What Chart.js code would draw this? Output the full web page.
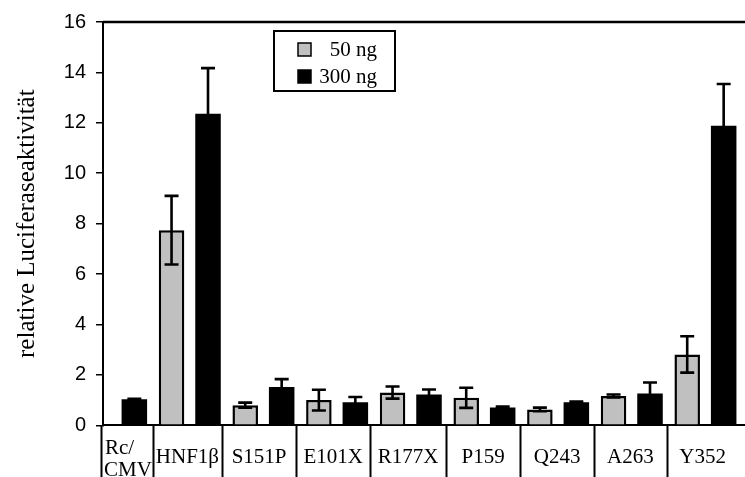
<!DOCTYPE html>
<html>
<head>
<meta charset="utf-8">
<script src="https://cdn.jsdelivr.net/npm/chart.js@4"></script>
<style>
  body { margin: 0; background: #fff; }
</style>
</head>
<body>
<canvas id="luciferase" width="745" height="477"></canvas>
<script>
// data
const categories = [['Rc/', 'CMV'], 'HNF1β', 'S151P', 'E101X', 'R177X', 'P159', 'Q243', 'A263', 'Y352'];
const seriesLabels = ['50 ng', '300 ng'];
const values50 = [null, 7.74, 0.80, 1.00, 1.30, 1.09, 0.63, 1.16, 2.81];
const errors50 = [null, 1.36, 0.10, 0.41, 0.24, 0.40, 0.07, 0.06, 0.72];
const values300 = [1.03, 12.36, 1.52, 0.91, 1.22, 0.71, 0.91, 1.26, 11.88];
const errors300 = [0.02, 1.81, 0.31, 0.21, 0.20, 0.03, 0.03, 0.44, 1.66];
const yTicks = [0, 2, 4, 6, 8, 10, 12, 14, 16];

// where the label table is split, in category units
const separators = [-0.205, 0.5, 1.436, 2.445, 3.449, 4.48, 5.484, 6.488, 7.475, 8.45];

const toPoints = vals => vals.map((v, i) => ({ x: i, y: v }));

const errorBars = {
    id: 'errorBars',
    afterDatasetsDraw(chart) {
        const ctx = chart.ctx;
        const y = chart.scales.y;
        const errs = [errors50, errors300];
        ctx.save();
        ctx.strokeStyle = '#000';
        ctx.lineWidth = 2.6;
        chart.data.datasets.forEach((ds, d) => {
            const meta = chart.getDatasetMeta(d);
            meta.data.forEach((bar, i) => {
                const v = ds.data[i].y;
                const e = errs[d][i];
                if (v == null || e == null) return;
                const top = y.getPixelForValue(v + e);
                const bot = y.getPixelForValue(v - e);
                ctx.beginPath();
                ctx.moveTo(bar.x, top); ctx.lineTo(bar.x, bot);
                ctx.moveTo(bar.x - 7, top); ctx.lineTo(bar.x + 7, top);
                ctx.moveTo(bar.x - 7, bot); ctx.lineTo(bar.x + 7, bot);
                ctx.stroke();
            });
        });
        ctx.restore();
    }
};

const frameAndLabels = {
    id: 'frameAndLabels',
    afterDraw(chart) {
        const ctx = chart.ctx;
        const area = chart.chartArea;
        const x = chart.scales.x;
        ctx.save();
        ctx.strokeStyle = '#000';
        // top frame line
        ctx.lineWidth = 2.5;
        ctx.beginPath();
        ctx.moveTo(area.left, area.top);
        ctx.lineTo(chart.width, area.top);
        ctx.stroke();

        // category table under the axis
        ctx.lineWidth = 2;
        ctx.beginPath();
        separators.slice(0, 9).forEach(s => {
            const px = Math.round(x.getPixelForValue(s)) + 0.5;
            ctx.moveTo(px, area.bottom);
            ctx.lineTo(px, chart.height);
        });
        ctx.stroke();

        ctx.fillStyle = '#000';
        ctx.font = '21px "Liberation Serif"';
        ctx.textBaseline = 'alphabetic';
        categories.forEach((c, i) => {
            const l = x.getPixelForValue(separators[i]);
            const r = x.getPixelForValue(separators[i + 1]);
            if (Array.isArray(c)) {
                ctx.textAlign = 'left';
                ctx.fillText(c[0], l + 4, 454);
                ctx.fillText(c[1], l + 3, 476);
            } else {
                ctx.textAlign = 'center';
                ctx.fillText(c, (l + r) / 2, 463);
            }
        });

        // legend box
        ctx.lineWidth = 2;
        ctx.strokeRect(274, 31, 121, 60);
        chart.data.datasets.forEach((ds, d) => {
            const sy = 43 + d * 27;
            ctx.fillStyle = ds.backgroundColor;
            ctx.fillRect(298, sy, 13, 13);
            ctx.lineWidth = 1.5;
            ctx.strokeRect(298, sy, 13, 13);
            ctx.fillStyle = '#000';
            ctx.textAlign = 'right';
            ctx.font = '21px "Liberation Serif"';
            ctx.fillText(ds.label, 377, sy + 13);
        });
        ctx.restore();
    }
};

let chart = new Chart(document.getElementById('luciferase'), {
    type: 'bar',
    data: {
        datasets: [
            {
                label: seriesLabels[0],
                data: toPoints(values50),
                backgroundColor: '#c0c0c0',
                borderColor: '#000',
                borderWidth: 2.5,
                categoryPercentage: 0.99,
                barPercentage: 0.70
            },
            {
                label: seriesLabels[1],
                data: toPoints(values300),
                backgroundColor: '#000',
                borderColor: '#000',
                borderWidth: 0,
                categoryPercentage: 0.99,
                barPercentage: 0.70
            }
        ]
    },
    options: {
        responsive: false,
        animation: false,
        layout: { padding: { top: 20, left: 0, right: 0, bottom: 0 } },
        plugins: {
            legend: { display: false },
            tooltip: { enabled: false }
        },
        scales: {
            x: {
                type: 'linear',
                min: -0.178,
                max: 8.537,
                offset: false,
                ticks: { display: false, stepSize: 1, includeBounds: false },
                grid: { display: false },
                border: { display: true, color: '#000', width: 2 },
                afterFit: s => { s.height = 51.7; }
            },
            y: {
                min: 0,
                max: 16,
                afterBuildTicks: s => { s.ticks = yTicks.map(v => ({ value: v })); },
                ticks: {
                    color: '#000',
                    padding: 10,
                    font: { family: 'Liberation Sans', size: 20 }
                },
                grid: {
                    drawOnChartArea: false,
                    drawTicks: true,
                    tickLength: 7,
                    color: '#000',
                    lineWidth: 1.5
                },
                border: { display: true, color: '#000', width: 2 },
                title: {
                    display: true,
                    text: 'relative Luciferaseaktivität',
                    color: '#000',
                    padding: { top: 12, bottom: 0 },
                    font: { family: 'Liberation Serif', size: 25 }
                },
                afterFit: s => { s.width = 103; }
            }
        }
    },
    plugins: [errorBars, frameAndLabels]
});
</script>
</body>
</html>
